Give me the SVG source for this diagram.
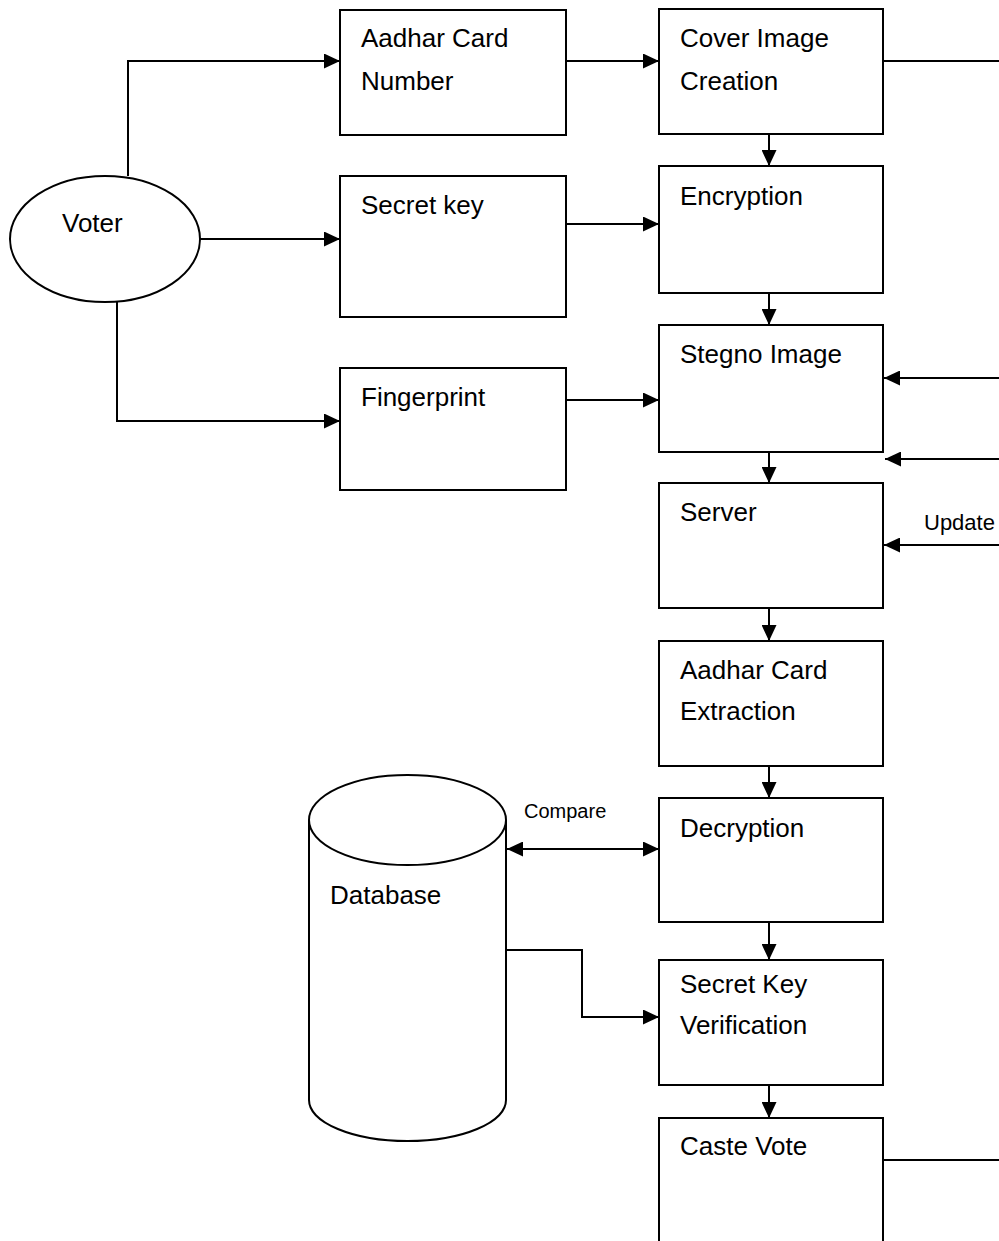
<svg xmlns="http://www.w3.org/2000/svg" width="999" height="1241" viewBox="0 0 999 1241">
<style>
.box{fill:#fff;stroke:#000;stroke-width:2}
.t{font-family:"Liberation Sans",Arial,sans-serif;font-size:26px;fill:#000}
.s{font-family:"Liberation Sans",Arial,sans-serif;font-size:20px;fill:#000}
.ln{fill:none;stroke:#000;stroke-width:2}
</style>
<defs>
<marker id="ah" markerUnits="userSpaceOnUse" markerWidth="17" markerHeight="15" refX="16" refY="7.5" orient="auto-start-reverse">
<path d="M0,0 L16,7.5 L0,15 z" fill="#000"/>
</marker>
</defs>
<rect width="999" height="1241" fill="#fff"/>

<g id="connectors">
<path class="ln" d="M128,176 V61 H340" marker-end="url(#ah)"/>
<path class="ln" d="M200,239 H340" marker-end="url(#ah)"/>
<path class="ln" d="M117,302 V421 H340" marker-end="url(#ah)"/>
<path class="ln" d="M566,61 H659" marker-end="url(#ah)"/>
<path class="ln" d="M566,224 H659" marker-end="url(#ah)"/>
<path class="ln" d="M566,400 H659" marker-end="url(#ah)"/>
<path class="ln" d="M769,134 V166" marker-end="url(#ah)"/>
<path class="ln" d="M769,293 V325" marker-end="url(#ah)"/>
<path class="ln" d="M769,452 V483" marker-end="url(#ah)"/>
<path class="ln" d="M769,608 V641" marker-end="url(#ah)"/>
<path class="ln" d="M769,766 V798" marker-end="url(#ah)"/>
<path class="ln" d="M769,922 V960" marker-end="url(#ah)"/>
<path class="ln" d="M769,1085 V1118" marker-end="url(#ah)"/>
<path class="ln" d="M883,61 H999"/>
<path class="ln" d="M999,378 H884" marker-end="url(#ah)"/>
<path class="ln" d="M999,459 H885" marker-end="url(#ah)"/>
<path class="ln" d="M999,545 H884" marker-end="url(#ah)"/>
<path class="ln" d="M883,1160 H999"/>
<path class="ln" d="M507,849 H659" marker-start="url(#ah)" marker-end="url(#ah)"/>
<path class="ln" d="M506,950 H582 V1017 H659" marker-end="url(#ah)"/>
<text class="s" x="524" y="818">Compare</text>
<text class="t" x="924" y="530" style="font-size:22px">Update</text>
</g>

<g id="voter">
<ellipse cx="105" cy="239" rx="95" ry="63" class="box"/>
<text class="t" x="62" y="232">Voter</text>
</g>
<g id="aadhar-number">
<rect class="box" x="340" y="10" width="226" height="125"/>
<text class="t" x="361" y="47">Aadhar Card</text>
<text class="t" x="361" y="90">Number</text>
</g>
<g id="secret-key">
<rect class="box" x="340" y="176" width="226" height="141"/>
<text class="t" x="361" y="214">Secret key</text>
</g>
<g id="fingerprint">
<rect class="box" x="340" y="368" width="226" height="122"/>
<text class="t" x="361" y="406">Fingerprint</text>
</g>
<g id="cover-image">
<rect class="box" x="659" y="9" width="224" height="125"/>
<text class="t" x="680" y="47">Cover Image</text>
<text class="t" x="680" y="90">Creation</text>
</g>
<g id="encryption">
<rect class="box" x="659" y="166" width="224" height="127"/>
<text class="t" x="680" y="205">Encryption</text>
</g>
<g id="stegno">
<rect class="box" x="659" y="325" width="224" height="127"/>
<text class="t" x="680" y="363">Stegno Image</text>
</g>
<g id="server">
<rect class="box" x="659" y="483" width="224" height="125"/>
<text class="t" x="680" y="521">Server</text>
</g>
<g id="aadhar-extraction">
<rect class="box" x="659" y="641" width="224" height="125"/>
<text class="t" x="680" y="679">Aadhar Card</text>
<text class="t" x="680" y="720">Extraction</text>
</g>
<g id="decryption">
<rect class="box" x="659" y="798" width="224" height="124"/>
<text class="t" x="680" y="837">Decryption</text>
</g>
<g id="secret-key-verification">
<rect class="box" x="659" y="960" width="224" height="125"/>
<text class="t" x="680" y="993">Secret Key</text>
<text class="t" x="680" y="1034">Verification</text>
</g>
<g id="caste-vote">
<rect class="box" x="659" y="1118" width="224" height="135"/>
<text class="t" x="680" y="1155">Caste Vote</text>
</g>
<g id="database">
<path class="box" d="M309,820 V1100 A98.5,41 0 0 0 506,1100 V820 A98.5,45 0 0 0 309,820 Z"/>
<path class="ln" d="M309,820 A98.5,45 0 0 0 506,820"/>
<text class="t" x="330" y="904">Database</text>
</g>
</svg>
